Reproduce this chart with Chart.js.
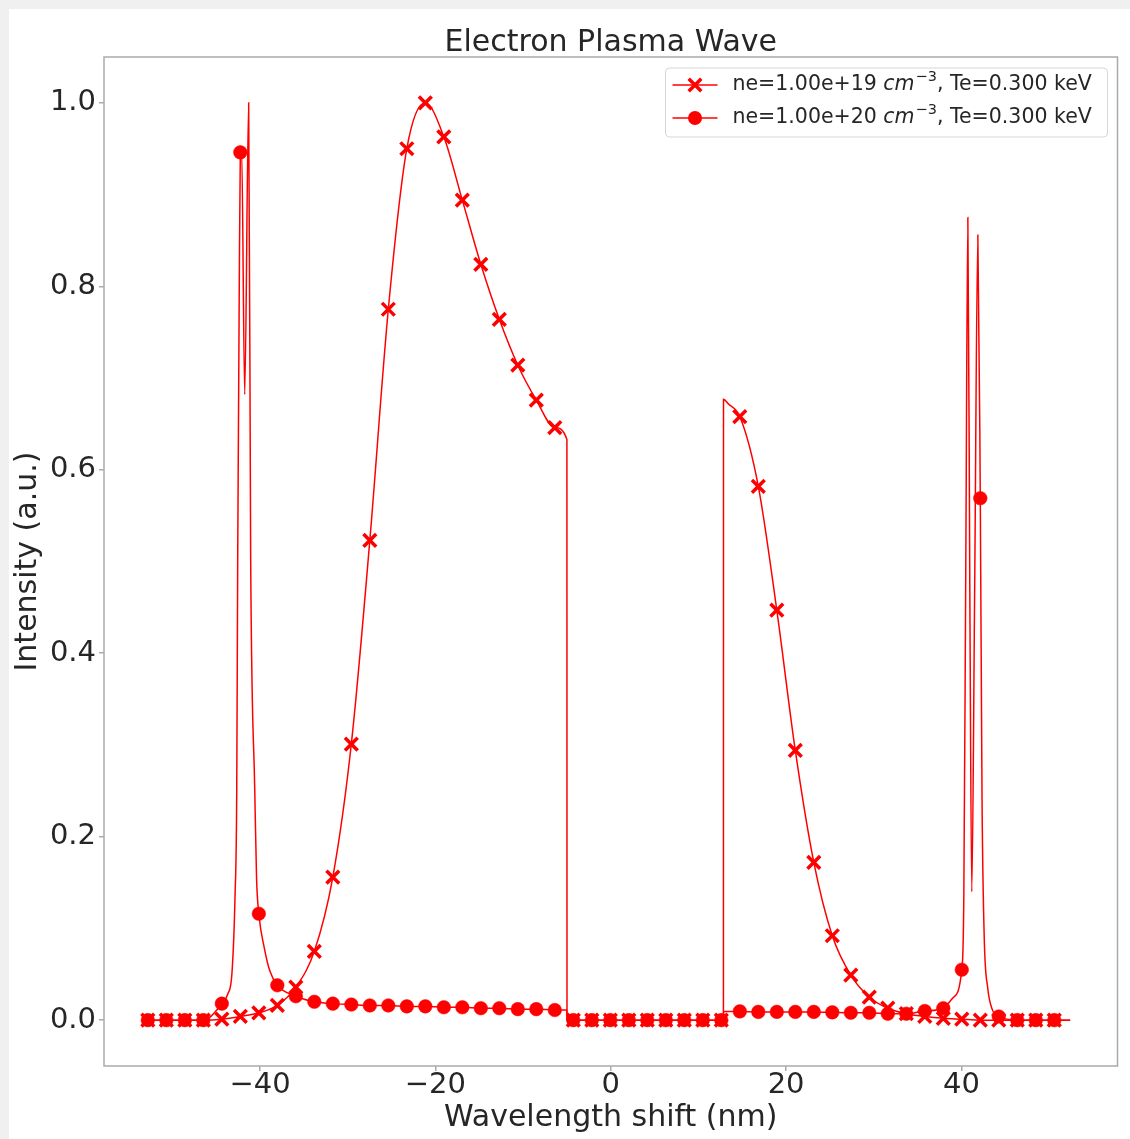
<!DOCTYPE html>
<html>
<head>
<meta charset="utf-8">
<title>Electron Plasma Wave</title>
<script src="https://cdn.jsdelivr.net/npm/chart.js@4.4.0/dist/chart.umd.min.js"></script>
<style>
  html, body { margin: 0; padding: 0; background: #f0f0f0; }
  #wrap { position: absolute; left: 9px; top: 9px; width: 1121px; height: 1130px; background: #fff; }
</style>
</head>
<body>
<div id="wrap"><canvas id="chart" width="1121" height="1130"></canvas></div>
<script>
// data
const markX = [
  -52.8, -50.69, -48.58, -46.47, -44.36, -42.25, -40.14, -38.03, -35.92, -33.81,
  -31.7, -29.59, -27.48, -25.37, -23.26, -21.15, -19.04, -16.93, -14.82, -12.71,
  -10.6, -8.49, -6.38, -4.27, -2.16, -0.05, 2.06, 4.17, 6.28, 8.39,
  10.5, 12.61, 14.72, 16.83, 18.94, 21.05, 23.16, 25.27, 27.38, 29.49,
  31.6, 33.71, 35.82, 37.93, 40.04, 42.15, 44.26, 46.37, 48.48, 50.59
];
const ne19Marks = [
  0, 0, 0, 0, 0.001, 0.004, 0.008, 0.016, 0.036, 0.075,
  0.156, 0.301, 0.523, 0.775, 0.950, 1.000, 0.963, 0.894, 0.824, 0.764,
  0.714, 0.676, 0.646, 0, 0, 0, 0, 0, 0, 0,
  0, 0, 0.658, 0.582, 0.447, 0.294, 0.172, 0.092, 0.049, 0.025,
  0.013, 0.007, 0.004, 0.002, 0.001, 0, 0, 0, 0, 0
];
const ne20Marks = [
  0, 0, 0, 0, 0.018, 0.946, 0.116, 0.038, 0.026, 0.020,
  0.018, 0.017, 0.016, 0.016, 0.015, 0.015, 0.014, 0.014, 0.013, 0.013,
  0.012, 0.012, 0.011, 0, 0, 0, 0, 0, 0, 0,
  0, 0, 0.0095, 0.009, 0.009, 0.009, 0.009, 0.0085, 0.008, 0.008,
  0.007, 0.007, 0.010, 0.013, 0.055, 0.569, 0.004, 0, 0, 0
];
// line detail between the markers
const ne19Detail = [
  [-5.0, 0.633], [-4.99, 0], [12.85, 0], [12.86, 0.677], [13.4, 0.672], [52.4, 0]
];
const ne20Detail = [
  [-43.7, 0.028], [-43.2, 0.052], [-42.86, 0.133], [-42.66, 0.249], [-42.55, 0.503],
  [-42.38, 0.786], [-42.1, 0.950], [-41.75, 0.682], [-41.3, 1.0], [-41.07, 0.503],
  [-40.6, 0.249], [-40.4, 0.155], [-39.5, 0.078], [-38.9, 0.054],
  [-5.0, 0.011], [-4.99, 0], [12.85, 0], [12.86, 0.0095],
  [39.0, 0.024], [40.27, 0.133], [40.5, 0.503], [40.73, 0.875], [40.96, 0.46],
  [41.18, 0.14], [41.5, 0.46], [41.87, 0.856], [42.35, 0.24], [42.6, 0.09],
  [43.0, 0.035], [43.5, 0.012], [52.4, 0]
];
const xTicks = [-40, -20, 0, 20, 40];
const yTicks = [0, 0.2, 0.4, 0.6, 0.8, 1.0];
const titleText = "Electron Plasma Wave";
const xLabel = "Wavelength shift (nm)";
const yLabel = "Intensity (a.u.)";
const legendLabels = [
  ["ne=1.00e+19 ", "cm", "\u22123", ", Te=0.300 keV"],
  ["ne=1.00e+20 ", "cm", "\u22123", ", Te=0.300 keV"]
];

const FONT = "'DejaVu Sans', sans-serif";
const RED = "#ff0000";
const INK = "#262626";
const SPINE = "#aaaaaa";

function buildSeries(marks, detail) {
  const pts = markX.map((x, i) => ({ x, y: marks[i], mark: true }));
  detail.forEach(([x, y]) => pts.push({ x, y, mark: false }));
  return pts.sort((a, b) => a.x - b.x);
}

function drawMarker(ctx, style, x, y) {
  ctx.save();
  ctx.strokeStyle = RED;
  ctx.fillStyle = RED;
  ctx.beginPath();
  if (style === "crossRot") {
    const d = 6.3;
    ctx.lineWidth = 3.5;
    ctx.moveTo(x - d, y - d); ctx.lineTo(x + d, y + d);
    ctx.moveTo(x + d, y - d); ctx.lineTo(x - d, y + d);
    ctx.stroke();
  } else {
    ctx.arc(x, y, 7, 0, Math.PI * 2);
    ctx.fill();
  }
  ctx.restore();
}

// spines, title and the matplotlib-like legend
const framePlugin = {
  id: "frame",
  afterDatasetsDraw(chart) {
    const { ctx, chartArea: a } = chart;
    ctx.save();
    ctx.strokeStyle = SPINE;
    ctx.lineWidth = 1.5;
    ctx.strokeRect(a.left, a.top, a.right - a.left, a.bottom - a.top);
    ctx.restore();
  },
  afterDraw(chart) {
    const { ctx, chartArea: a } = chart;
    ctx.save();
    ctx.fillStyle = INK;
    ctx.font = `30px ${FONT}`;
    ctx.textAlign = "center";
    ctx.textBaseline = "alphabetic";
    ctx.fillText(titleText, (a.left + a.right) / 2, 42);

    // legend box
    const bw = 442, bh = 69;
    const bx = a.right - 10 - bw, by = a.top + 11;
    ctx.beginPath();
    if (ctx.roundRect) ctx.roundRect(bx, by, bw, bh, 4);
    else ctx.rect(bx, by, bw, bh);
    ctx.fillStyle = "rgba(255,255,255,0.85)";
    ctx.fill();
    ctx.strokeStyle = "#d6d6d6";
    ctx.lineWidth = 1;
    ctx.stroke();

    const styles = ["crossRot", "circle"];
    legendLabels.forEach((parts, i) => {
      const ry = by + 17 + i * 33;
      ctx.strokeStyle = RED;
      ctx.lineWidth = 1.5;
      ctx.beginPath();
      ctx.moveTo(bx + 7, ry);
      ctx.lineTo(bx + 52, ry);
      ctx.stroke();
      drawMarker(ctx, styles[i], bx + 29.5, ry);

      ctx.fillStyle = INK;
      ctx.textAlign = "left";
      ctx.textBaseline = "middle";
      let tx = bx + 67;
      ctx.font = `20.5px ${FONT}`;
      ctx.fillText(parts[0], tx, ry);
      tx += ctx.measureText(parts[0]).width;
      ctx.font = `italic 20.5px ${FONT}`;
      ctx.fillText(parts[1], tx, ry);
      tx += ctx.measureText(parts[1]).width + 1;
      ctx.font = `14.5px ${FONT}`;
      ctx.fillText(parts[2], tx, ry - 8);
      tx += ctx.measureText(parts[2]).width;
      ctx.font = `20.5px ${FONT}`;
      ctx.fillText(parts[3], tx, ry);
    });
    ctx.restore();
  }
};

const tickGrid = {
  drawOnChartArea: false,
  drawTicks: true,
  tickLength: 5,
  color: SPINE,
  lineWidth: 1.5
};

new Chart(document.getElementById("chart"), {
  type: "line",
  data: {
    datasets: [
      {
        label: "ne=1.00e+19",
        data: buildSeries(ne19Marks, ne19Detail),
        borderColor: RED,
        borderWidth: 1.5,
        pointStyle: "crossRot",
        pointRadius: ctx => (ctx.raw && ctx.raw.mark ? 9 : 0),
        pointBorderWidth: 3.5,
        pointBorderColor: RED,
        pointBackgroundColor: RED,
        cubicInterpolationMode: "monotone",
        order: 1
      },
      {
        label: "ne=1.00e+20",
        data: buildSeries(ne20Marks, ne20Detail),
        borderColor: RED,
        borderWidth: 1.5,
        pointStyle: "circle",
        pointRadius: ctx => (ctx.raw && ctx.raw.mark ? 6.8 : 0),
        pointBorderWidth: 0.5,
        pointBorderColor: RED,
        pointBackgroundColor: RED,
        cubicInterpolationMode: "monotone",
        order: 0
      }
    ]
  },
  options: {
    responsive: false,
    animation: false,
    devicePixelRatio: 1,
    layout: { padding: { top: 48, right: 10, left: 0, bottom: 0 } },
    plugins: {
      legend: { display: false },
      title: { display: false },
      tooltip: { enabled: false }
    },
    scales: {
      x: {
        type: "linear",
        min: -57.8,
        max: 57.8,
        afterBuildTicks: s => { s.ticks = xTicks.map(v => ({ value: v })); },
        afterFit: s => { s.height = 73; },
        border: { display: false },
        grid: tickGrid,
        ticks: {
          autoSkip: false,
          maxRotation: 0,
          padding: 0,
          color: INK,
          font: { family: FONT, size: 29, lineHeight: 1 },
          callback: v => (v < 0 ? "\u2212" + Math.abs(v) : String(v))
        },
        title: {
          display: true,
          text: xLabel,
          color: INK,
          font: { family: FONT, size: 30 },
          padding: { top: 0, bottom: 3 }
        }
      },
      y: {
        type: "linear",
        min: -0.05,
        max: 1.05,
        afterBuildTicks: s => { s.ticks = yTicks.map(v => ({ value: v })); },
        afterFit: s => { s.width = 95; },
        border: { display: false },
        grid: tickGrid,
        ticks: {
          padding: 3,
          color: INK,
          font: { family: FONT, size: 29 },
          callback: v => v.toFixed(1)
        },
        title: {
          display: true,
          text: yLabel,
          color: INK,
          font: { family: FONT, size: 30 },
          padding: { top: 1.5, bottom: 0 }
        }
      }
    }
  },
  plugins: [framePlugin]
});
</script>
</body>
</html>
